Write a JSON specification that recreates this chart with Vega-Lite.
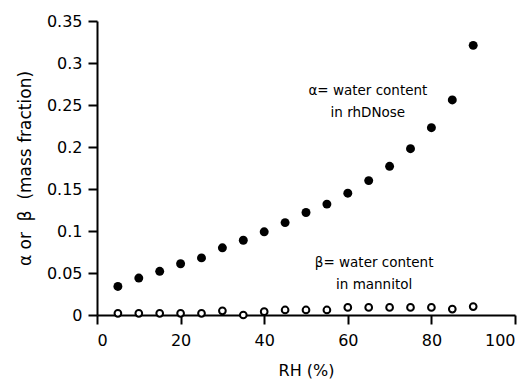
{
  "$schema": "https://vega.github.io/schema/vega-lite/v6.json",
  "width": 418,
  "height": 294,
  "autosize": {"type": "none"},
  "padding": {"left": 97, "top": 21, "right": 15, "bottom": 66},
  "background": "white",
  "config": {
    "view": {"stroke": null},
    "font": "DejaVu Sans",
    "axis": {
      "grid": false,
      "domainColor": "black",
      "domainWidth": 2,
      "tickColor": "black",
      "tickWidth": 2,
      "tickSize": 9,
      "labelColor": "black",
      "labelFont": "DejaVu Sans",
      "labelFontSize": 16,
      "titleColor": "black",
      "titleFont": "DejaVu Sans",
      "titleFontSize": 16,
      "titleFontWeight": "normal"
    }
  },
  "datasets": {
    "water": [
      {"rh": 5, "value": 0.034, "series": "alpha"},
      {"rh": 10, "value": 0.044, "series": "alpha"},
      {"rh": 15, "value": 0.052, "series": "alpha"},
      {"rh": 20, "value": 0.061, "series": "alpha"},
      {"rh": 25, "value": 0.068, "series": "alpha"},
      {"rh": 30, "value": 0.080, "series": "alpha"},
      {"rh": 35, "value": 0.089, "series": "alpha"},
      {"rh": 40, "value": 0.099, "series": "alpha"},
      {"rh": 45, "value": 0.110, "series": "alpha"},
      {"rh": 50, "value": 0.122, "series": "alpha"},
      {"rh": 55, "value": 0.132, "series": "alpha"},
      {"rh": 60, "value": 0.145, "series": "alpha"},
      {"rh": 65, "value": 0.160, "series": "alpha"},
      {"rh": 70, "value": 0.177, "series": "alpha"},
      {"rh": 75, "value": 0.198, "series": "alpha"},
      {"rh": 80, "value": 0.223, "series": "alpha"},
      {"rh": 85, "value": 0.256, "series": "alpha"},
      {"rh": 90, "value": 0.321, "series": "alpha"},
      {"rh": 5, "value": 0.002, "series": "beta"},
      {"rh": 10, "value": 0.002, "series": "beta"},
      {"rh": 15, "value": 0.002, "series": "beta"},
      {"rh": 20, "value": 0.002, "series": "beta"},
      {"rh": 25, "value": 0.002, "series": "beta"},
      {"rh": 30, "value": 0.005, "series": "beta"},
      {"rh": 35, "value": 0.0, "series": "beta"},
      {"rh": 40, "value": 0.004, "series": "beta"},
      {"rh": 45, "value": 0.006, "series": "beta"},
      {"rh": 50, "value": 0.006, "series": "beta"},
      {"rh": 55, "value": 0.006, "series": "beta"},
      {"rh": 60, "value": 0.009, "series": "beta"},
      {"rh": 65, "value": 0.009, "series": "beta"},
      {"rh": 70, "value": 0.009, "series": "beta"},
      {"rh": 75, "value": 0.009, "series": "beta"},
      {"rh": 80, "value": 0.009, "series": "beta"},
      {"rh": 85, "value": 0.007, "series": "beta"},
      {"rh": 90, "value": 0.010, "series": "beta"}
    ],
    "notes": [
      {"rh": 64.8, "value": 0.262, "note": ["α= water content", "in rhDNose"]},
      {"rh": 66.3, "value": 0.057, "note": ["β= water content", "in mannitol"]}
    ]
  },
  "layer": [
    {
      "data": {"name": "water"},
      "transform": [{"filter": "datum.series === 'alpha'"}],
      "mark": {"type": "point", "filled": true, "color": "black", "size": 80, "opacity": 1},
      "encoding": {
        "x": {
          "field": "rh",
          "type": "quantitative",
          "scale": {"domain": [0, 100], "nice": false},
          "axis": {"values": [0, 20, 40, 60, 80, 100], "title": "RH (%)", "labelPadding": 8, "titlePadding": 14}
        },
        "y": {
          "field": "value",
          "type": "quantitative",
          "scale": {"domain": [0, 0.35], "nice": false},
          "axis": {
            "values": [0, 0.05, 0.1, 0.15, 0.2, 0.25, 0.3, 0.35],
            "format": ".2~f",
            "title": "α or\u00a0\u00a0β\u00a0\u00a0(mass fraction)",
            "titleFontSize": 17,
            "labelPadding": 6,
            "titlePadding": 12
          }
        }
      }
    },
    {
      "data": {"name": "water"},
      "transform": [{"filter": "datum.series === 'beta'"}],
      "mark": {"type": "point", "filled": false, "color": "black", "fill": "white", "strokeWidth": 2, "size": 45, "opacity": 1},
      "encoding": {
        "x": {"field": "rh", "type": "quantitative"},
        "y": {"field": "value", "type": "quantitative"}
      }
    },
    {
      "data": {"name": "notes"},
      "mark": {"type": "text", "align": "center", "baseline": "alphabetic", "fontSize": 13.5, "lineHeight": 22, "color": "black"},
      "encoding": {
        "x": {"field": "rh", "type": "quantitative"},
        "y": {"field": "value", "type": "quantitative"},
        "text": {"field": "note"}
      }
    }
  ]
}
